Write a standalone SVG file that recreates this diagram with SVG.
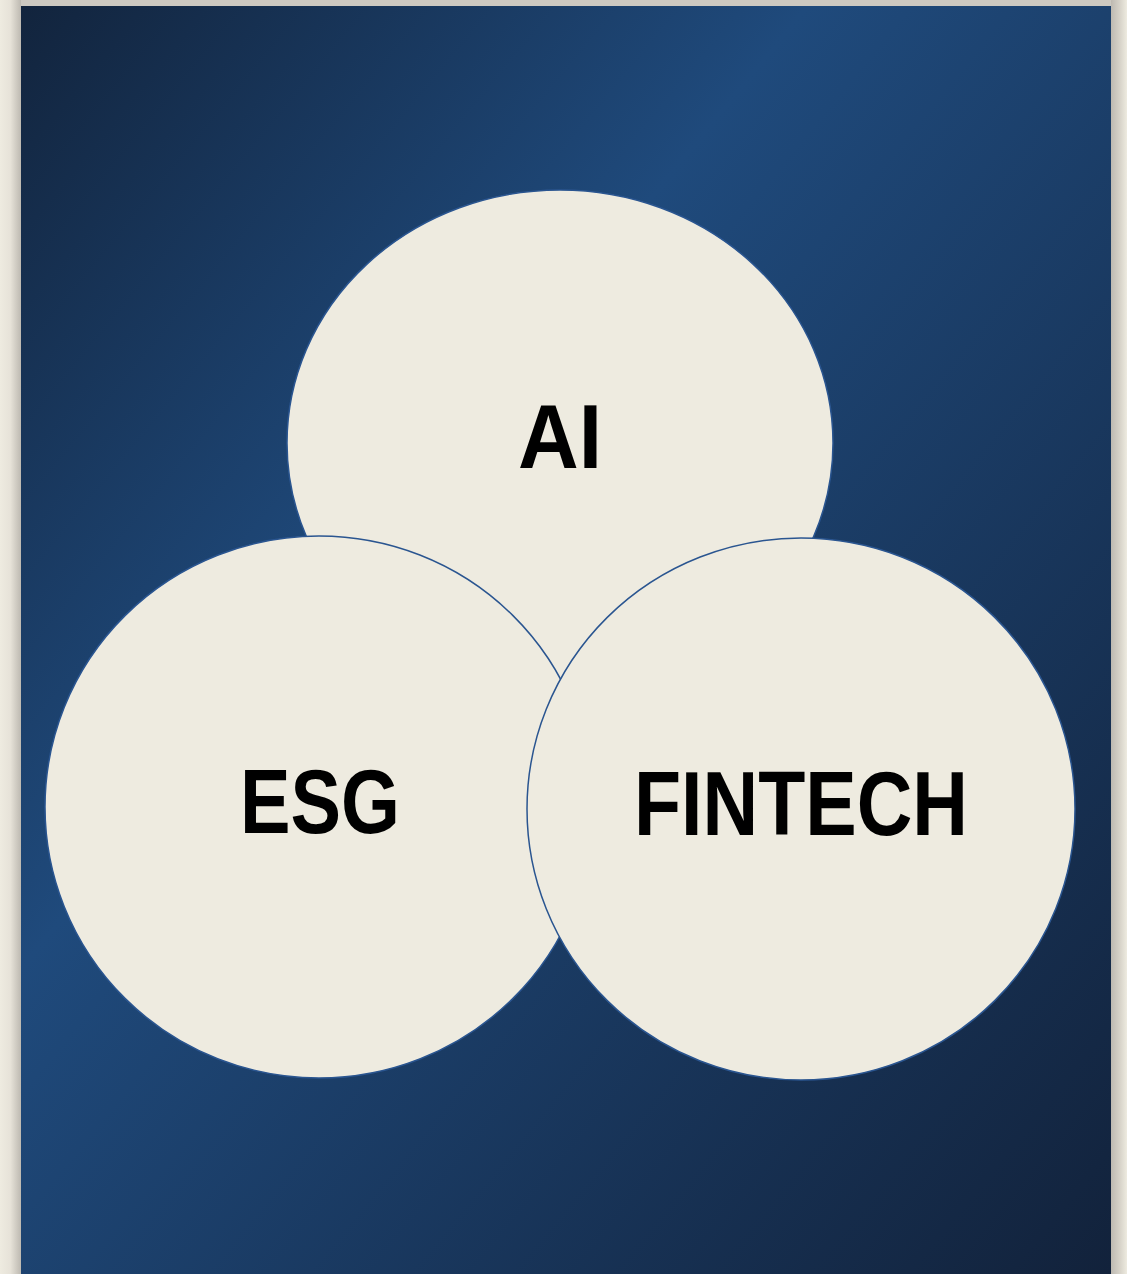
<svg xmlns="http://www.w3.org/2000/svg" width="1127" height="1274" viewBox="0 0 1127 1274">
<defs>
<linearGradient id="bg" x1="21" y1="6" x2="1295" y2="1048" gradientUnits="userSpaceOnUse">
<stop offset="0" stop-color="#12243d"/>
<stop offset="0.37" stop-color="#1f4a7c"/>
<stop offset="1" stop-color="#12223b"/>
</linearGradient>
<linearGradient id="lshadow" x1="0" y1="0" x2="1" y2="0">
<stop offset="0" stop-color="#eeebe0"/>
<stop offset="0.5" stop-color="#e6e2d8"/>
<stop offset="1" stop-color="#bdb9b1"/>
</linearGradient>
<linearGradient id="rshadow" x1="0" y1="0" x2="1" y2="0">
<stop offset="0" stop-color="#bdb9b1"/>
<stop offset="0.6" stop-color="#d9d5cb"/>
<stop offset="1" stop-color="#eeebe0"/>
</linearGradient>
<style>
.c{fill:#eeebe0;stroke:#2a5590;stroke-width:1.5}
.t{font-family:"Liberation Sans",Arial,sans-serif;font-weight:bold;font-size:90px;fill:#000;text-anchor:middle}
</style>
</defs>
<rect x="0" y="0" width="1127" height="1274" fill="#cdc9c1"/>
<rect x="0" y="0" width="21" height="1274" fill="url(#lshadow)"/>
<rect x="1111" y="0" width="16" height="1274" fill="url(#rshadow)"/>
<rect x="21" y="6" width="1090" height="1268" fill="url(#bg)"/>
<g id="ai">
<ellipse class="c" cx="560" cy="443" rx="273" ry="253" stroke="none"/>
<text class="t" x="560" y="468" textLength="84" lengthAdjust="spacingAndGlyphs">AI</text>
</g>
<g id="esg">
<ellipse class="c" cx="319" cy="807" rx="274" ry="271"/>
<text class="t" x="320" y="833" textLength="160" lengthAdjust="spacingAndGlyphs">ESG</text>
</g>
<g id="fintech">
<ellipse class="c" cx="801" cy="809" rx="274" ry="271"/>
<text class="t" x="801" y="835" textLength="334" lengthAdjust="spacingAndGlyphs">FINTECH</text>
</g>
<g id="connectors"/>
</svg>
